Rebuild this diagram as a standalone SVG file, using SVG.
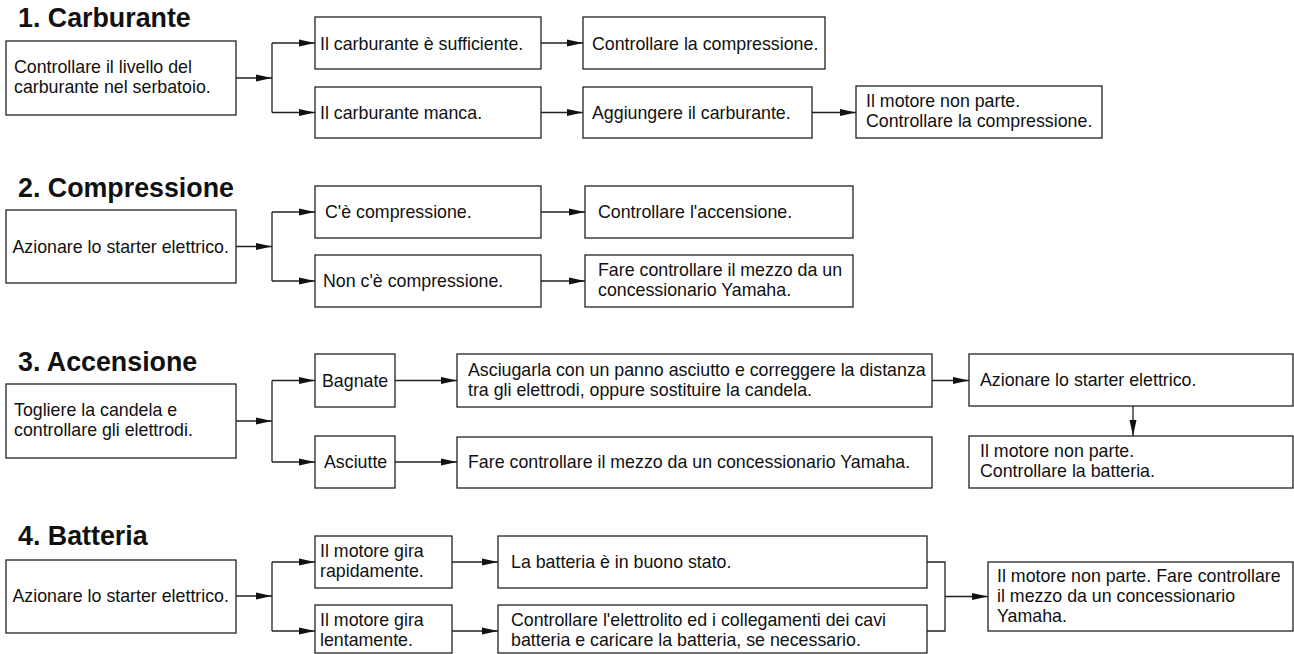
<svg xmlns="http://www.w3.org/2000/svg" width="1294" height="654" viewBox="0 0 1294 654">
<style>
.t{font-family:"Liberation Sans",Arial,Helvetica,sans-serif;font-size:17.8px;fill:#111}
.h{font-family:"Liberation Sans",Arial,Helvetica,sans-serif;font-size:26.8px;font-weight:bold;fill:#111}
.b{fill:#fff;stroke:#222;stroke-width:1.3}
.c{fill:none;stroke:#222;stroke-width:1.3}
.a{marker-end:url(#ah)}
</style>
<defs>
<marker id="ah" markerUnits="userSpaceOnUse" markerWidth="17" markerHeight="9" refX="16" refY="4" orient="auto">
<path d="M0,0.5 L16,4 L0,7.5 z" fill="#111"/>
</marker>
</defs>
<rect width="1294" height="654" fill="#fff"/>
<text class="h" x="18" y="27">1. Carburante</text>
<text class="h" x="18" y="197">2. Compressione</text>
<text class="h" x="18" y="371">3. Accensione</text>
<text class="h" x="18" y="545">4. Batteria</text>

<g id="connectors">
<!-- section 1 -->
<line class="c a" x1="236" y1="78" x2="272" y2="78"/>
<line class="c" x1="272" y1="43" x2="272" y2="112.5"/>
<line class="c a" x1="272" y1="43" x2="315" y2="43"/>
<line class="c a" x1="272" y1="112.5" x2="315" y2="112.5"/>
<line class="c a" x1="541" y1="43" x2="583" y2="43"/>
<line class="c a" x1="541" y1="112.5" x2="583" y2="112.5"/>
<line class="c a" x1="812" y1="112.5" x2="856" y2="112.5"/>
<!-- section 2 -->
<line class="c a" x1="236" y1="246.5" x2="272" y2="246.5"/>
<line class="c" x1="272" y1="212" x2="272" y2="281"/>
<line class="c a" x1="272" y1="212" x2="315" y2="212"/>
<line class="c a" x1="272" y1="281" x2="315" y2="281"/>
<line class="c a" x1="541" y1="212" x2="585" y2="212"/>
<line class="c a" x1="541" y1="281" x2="585" y2="281"/>
<!-- section 3 -->
<line class="c a" x1="236" y1="421" x2="272" y2="421"/>
<line class="c" x1="272" y1="380.5" x2="272" y2="462"/>
<line class="c a" x1="272" y1="380.5" x2="315" y2="380.5"/>
<line class="c a" x1="272" y1="462" x2="315" y2="462"/>
<line class="c a" x1="395" y1="380.5" x2="457" y2="380.5"/>
<line class="c a" x1="395" y1="462" x2="457" y2="462"/>
<line class="c a" x1="932" y1="380.5" x2="969" y2="380.5"/>
<line class="c a" x1="1133" y1="406" x2="1133" y2="436"/>
<!-- section 4 -->
<line class="c a" x1="236" y1="596" x2="272" y2="596"/>
<line class="c" x1="272" y1="562" x2="272" y2="631"/>
<line class="c a" x1="272" y1="562" x2="315" y2="562"/>
<line class="c a" x1="272" y1="631" x2="315" y2="631"/>
<line class="c a" x1="452" y1="562" x2="498" y2="562"/>
<line class="c a" x1="452" y1="631" x2="498" y2="631"/>
<polyline class="c" points="927,562 945,562 945,631 927,631"/>
<line class="c a" x1="945" y1="596.5" x2="988" y2="596.5"/>
</g>

<g id="n1a"><rect class="b" x="6" y="41" width="230" height="74"/><text class="t" x="14" y="73">Controllare il livello del</text><text class="t" x="14" y="93">carburante nel serbatoio.</text></g>
<g id="n1b"><rect class="b" x="315" y="17" width="226" height="52"/><text class="t" x="320" y="49.5">Il carburante è sufficiente.</text></g>
<g id="n1c"><rect class="b" x="315" y="87" width="226" height="51"/><text class="t" x="320" y="119">Il carburante manca.</text></g>
<g id="n1d"><rect class="b" x="583" y="17" width="242" height="52"/><text class="t" x="592" y="49.5">Controllare la compressione.</text></g>
<g id="n1e"><rect class="b" x="583" y="87" width="229" height="51"/><text class="t" x="592" y="119">Aggiungere il carburante.</text></g>
<g id="n1f"><rect class="b" x="856" y="86" width="246" height="52"/><text class="t" x="866" y="107">Il motore non parte.</text><text class="t" x="866" y="127">Controllare la compressione.</text></g>

<g id="n2a"><rect class="b" x="6" y="210" width="230" height="73"/><text class="t" x="12.5" y="252.5">Azionare lo starter elettrico.</text></g>
<g id="n2b"><rect class="b" x="315" y="186" width="226" height="52"/><text class="t" x="325" y="218">C'è compressione.</text></g>
<g id="n2c"><rect class="b" x="315" y="255" width="226" height="52"/><text class="t" x="323" y="287">Non c'è compressione.</text></g>
<g id="n2d"><rect class="b" x="585" y="186" width="268" height="52"/><text class="t" x="598" y="218">Controllare l'accensione.</text></g>
<g id="n2e"><rect class="b" x="585" y="255" width="268" height="52"/><text class="t" x="598" y="276">Fare controllare il mezzo da un</text><text class="t" x="598" y="296">concessionario Yamaha.</text></g>

<g id="n3a"><rect class="b" x="6" y="384" width="230" height="74"/><text class="t" x="14" y="416">Togliere la candela e</text><text class="t" x="14" y="436">controllare gli elettrodi.</text></g>
<g id="n3b"><rect class="b" x="315" y="354" width="80" height="53"/><text class="t" x="322" y="386.5">Bagnate</text></g>
<g id="n3c"><rect class="b" x="315" y="436" width="80" height="52"/><text class="t" x="324" y="468">Asciutte</text></g>
<g id="n3d"><rect class="b" x="457" y="354" width="475" height="53"/><text class="t" x="468" y="375.5">Asciugarla con un panno asciutto e correggere la distanza</text><text class="t" x="468" y="395.5">tra gli elettrodi, oppure sostituire la candela.</text></g>
<g id="n3e"><rect class="b" x="457" y="437" width="475" height="51"/><text class="t" x="468" y="468">Fare controllare il mezzo da un concessionario Yamaha.</text></g>
<g id="n3f"><rect class="b" x="969" y="354" width="324" height="52"/><text class="t" x="980" y="386">Azionare lo starter elettrico.</text></g>
<g id="n3g"><rect class="b" x="969" y="436" width="324" height="52"/><text class="t" x="980" y="457">Il motore non parte.</text><text class="t" x="980" y="477">Controllare la batteria.</text></g>

<g id="n4a"><rect class="b" x="6" y="560" width="230" height="73"/><text class="t" x="12.5" y="602">Azionare lo starter elettrico.</text></g>
<g id="n4b"><rect class="b" x="315" y="536" width="137" height="52"/><text class="t" x="320" y="557">Il motore gira</text><text class="t" x="320" y="577">rapidamente.</text></g>
<g id="n4c"><rect class="b" x="315" y="605" width="137" height="48"/><text class="t" x="320" y="626">Il motore gira</text><text class="t" x="320" y="646">lentamente.</text></g>
<g id="n4d"><rect class="b" x="498" y="536" width="429" height="52"/><text class="t" x="511" y="568">La batteria è in buono stato.</text></g>
<g id="n4e"><rect class="b" x="498" y="605" width="429" height="48"/><text class="t" x="511" y="626">Controllare l'elettrolito ed i collegamenti dei cavi</text><text class="t" x="511" y="646">batteria e caricare la batteria, se necessario.</text></g>
<g id="n4f"><rect class="b" x="988" y="562" width="305" height="69"/><text class="t" x="997" y="582">Il motore non parte. Fare controllare</text><text class="t" x="997" y="602">il mezzo da un concessionario</text><text class="t" x="997" y="622">Yamaha.</text></g>
</svg>
